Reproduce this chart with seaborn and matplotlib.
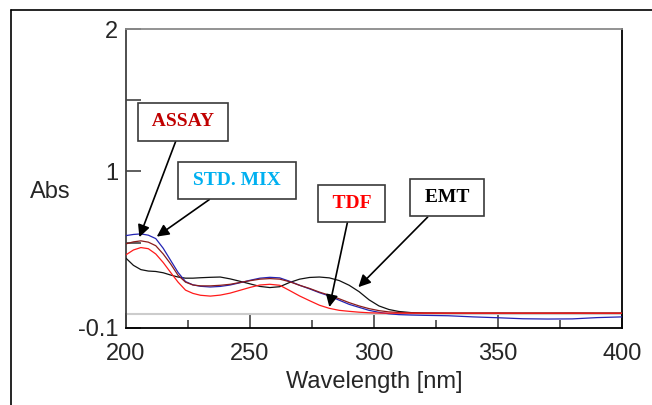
import numpy as np
import pandas as pd
import matplotlib
matplotlib.use("Agg")
import matplotlib.pyplot as plt
from matplotlib.lines import Line2D
import seaborn as sns

# ---------------- data ----------------
wavelength = [200, 203, 206, 209, 212, 215, 218, 221, 224, 227, 230, 234, 238, 242,
              246, 250, 254, 258, 262, 266, 270, 274, 278, 282, 286, 290, 294, 298,
              302, 306, 310, 315, 320, 330, 340, 350, 360, 370, 380, 390, 400]

emt = [0.390, 0.340, 0.310, 0.300, 0.297, 0.288, 0.272, 0.258, 0.250, 0.250, 0.253,
       0.256, 0.258, 0.245, 0.228, 0.210, 0.192, 0.184, 0.190, 0.220, 0.243, 0.255,
       0.258, 0.252, 0.233, 0.200, 0.155, 0.098, 0.055, 0.030, 0.016, 0.008, 0.005,
       0.004, 0.004, 0.004, 0.004, 0.004, 0.004, 0.004, 0.004]

std_mix = [0.549, 0.557, 0.561, 0.552, 0.528, 0.460, 0.375, 0.290, 0.226, 0.203, 0.193,
           0.188, 0.192, 0.202, 0.218, 0.235, 0.250, 0.256, 0.252, 0.228, 0.200, 0.175,
           0.148, 0.125, 0.095, 0.066, 0.045, 0.024, 0.010, 0.000, -0.006, -0.009, -0.011,
           -0.014, -0.022, -0.028, -0.035, -0.037, -0.036, -0.027, -0.022]

assay = [0.491, 0.505, 0.512, 0.503, 0.478, 0.420, 0.350, 0.270, 0.222, 0.202, 0.196,
         0.196, 0.200, 0.207, 0.220, 0.232, 0.243, 0.247, 0.243, 0.225, 0.200, 0.178,
         0.152, 0.130, 0.105, 0.078, 0.055, 0.036, 0.022, 0.013, 0.009, 0.006, 0.005,
         0.004, 0.004, 0.005, 0.004, 0.004, 0.005, 0.004, 0.004]

tdf = [0.414, 0.448, 0.465, 0.457, 0.420, 0.360, 0.290, 0.222, 0.166, 0.143, 0.130,
       0.124, 0.131, 0.145, 0.165, 0.185, 0.202, 0.207, 0.200, 0.163, 0.125, 0.092,
       0.060, 0.038, 0.024, 0.017, 0.011, 0.007, 0.005, 0.004, 0.004, 0.004, 0.004,
       0.004, 0.004, 0.004, 0.004, 0.004, 0.004, 0.004, 0.004]

x_ticks = [200, 250, 300, 350, 400]
x_minor = [225, 275, 325, 375]
y_ticks = [-0.1, 0, 0.5, 1, 1.5, 2]
y_ticklabels = ["-0.1", "", "", "1", "", "2"]

labels = ["ASSAY", "STD. MIX", "TDF", "EMT"]
label_colors = ["#c00000", "#00b0f0", "#ff0000", "#000000"]
label_tips = [(205.4, 0.538), (212.4, 0.542), (282.0, 0.047), (293.7, 0.187)]
label_pos = [(223.0, 1.347), (244.6, 0.937), (290.9, 0.774), (329.3, 0.814)]

# ---------------- figure ----------------
sns.set_style("ticks")
plt.rcParams["font.family"] = ["Liberation Sans", "DejaVu Sans"]

W, H = 652, 405
fig = plt.figure(figsize=(W / 100, H / 100), dpi=100)
L, R, T, B = 126, 622, 29, 328
ax = fig.add_axes([L / W, 1 - B / H, (R - L) / W, (B - T) / H])

df = pd.DataFrame({"Wavelength": wavelength, "EMT": emt, "STD. MIX": std_mix,
                   "ASSAY": assay, "TDF": tdf})

ax.axhline(0, color="#cccccc", lw=1.5, zorder=1)
series_colors = {"EMT": "#111111", "STD. MIX": "#2424b4", "ASSAY": "#8a1c1c", "TDF": "#ff1a1a"}
for name in ["EMT", "STD. MIX", "ASSAY", "TDF"]:
    sns.lineplot(data=df, x="Wavelength", y=name, ax=ax, color=series_colors[name],
                 lw=0.9, zorder=3)

ax.set_xlim(200, 400)
ax.set_ylim(-0.1, 2)
ax.set_xticks(x_ticks)
ax.set_xticks(x_minor, minor=True)
ax.set_yticks(y_ticks)
ax.set_yticklabels(y_ticklabels)

ax.tick_params(axis="both", which="major", direction="in", length=10.5, width=1.1,
               color="#333333", labelsize=17)
ax.tick_params(axis="x", which="minor", direction="in", length=6, width=1.1, color="#333333")
ax.tick_params(axis="x", which="major", pad=11)
ax.tick_params(axis="y", which="major", pad=5.5)

for side, col in [("left", "#404040"), ("top", "#8a8a8a"), ("right", "#000000"), ("bottom", "#000000")]:
    ax.spines[side].set_visible(True)
    ax.spines[side].set_color(col)
    ax.spines[side].set_linewidth(1.3)

ax.set_xlabel("Wavelength [nm]", fontsize=17)
ax.xaxis.set_label_coords(0.5, (B - 382) / (B - T))
ax.xaxis.label.set_va("center")
ax.set_ylabel("Abs", fontsize=17, rotation=0, ha="center", va="center")
ax.yaxis.set_label_coords((50 - L) / (R - L), (B - 192) / (B - T))

for text, col, tip, pos in zip(labels, label_colors, label_tips, label_pos):
    ax.annotate(" " + text + " ", xy=tip, xytext=pos, xycoords="data", textcoords="data",
                ha="center", va="center", fontsize=14, fontweight="bold",
                family=["Liberation Serif", "DejaVu Serif"], color=col, zorder=6,
                bbox=dict(boxstyle="square,pad=0.52", fc="white", ec="#3a3a3a", lw=1.2),
                arrowprops=dict(arrowstyle="-|>", color="black", lw=1.2,
                                mutation_scale=18, shrinkA=0, shrinkB=0))

# outer frame (top and left)
fig.add_artist(Line2D([11 / W, 1], [1 - 10 / H, 1 - 10 / H], transform=fig.transFigure,
                      color="black", lw=1.2))
fig.add_artist(Line2D([11 / W, 11 / W], [0, 1 - 10 / H], transform=fig.transFigure,
                      color="black", lw=1.2))

fig.savefig("out.png", dpi=100)
